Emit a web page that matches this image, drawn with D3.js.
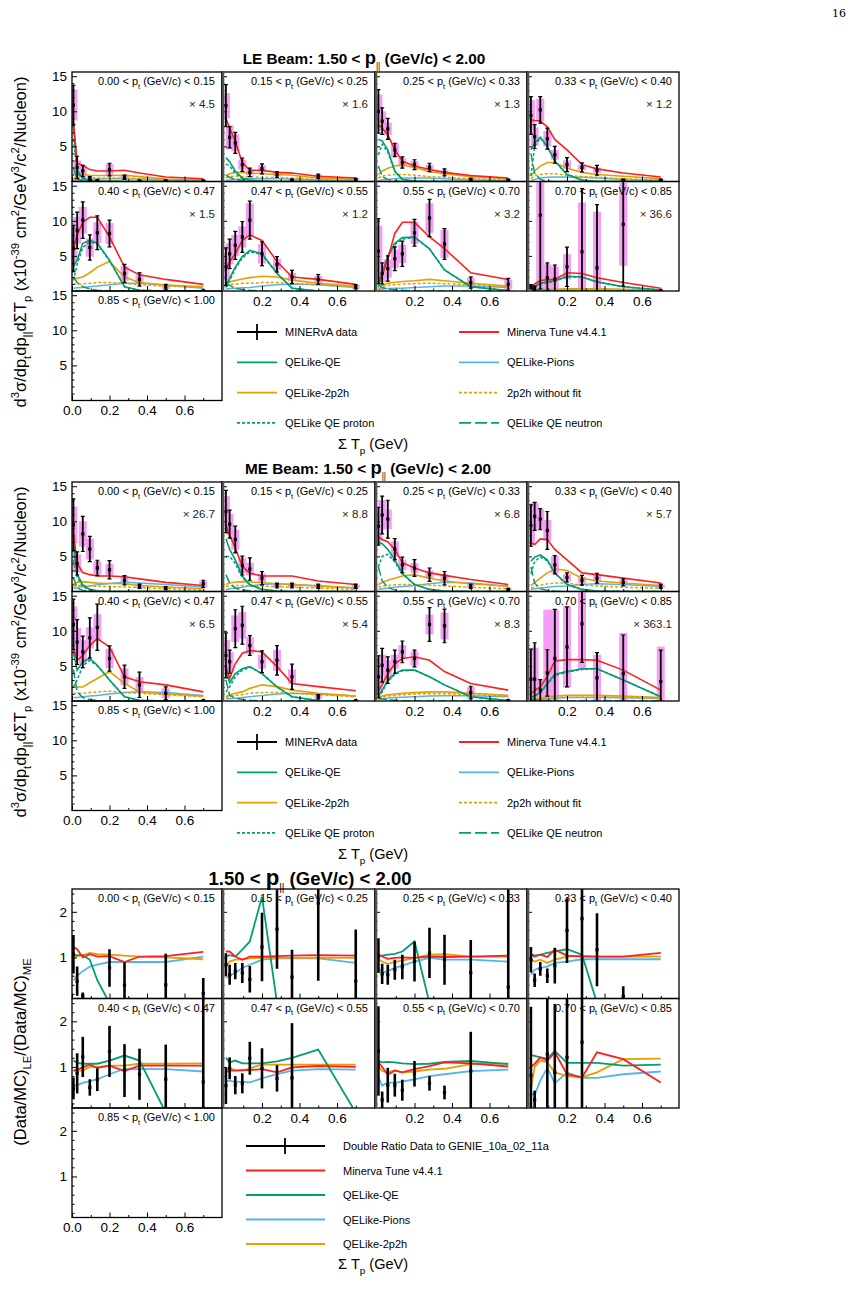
<!DOCTYPE html>
<html>
<head>
<meta charset="utf-8">
<script src="https://cdn.jsdelivr.net/npm/d3@7"></script>
<style>
  body { margin: 0; background: #fff; }
  svg { display: block; font-family: "Liberation Sans", Arial, Helvetica, sans-serif; }
</style>
</head>
<body>
<div id="chart"></div>
<script>
// bin centres of Sum T_p (GeV) and the pt bin edges
const bins = [0.0075, 0.0275, 0.0575, 0.095, 0.135, 0.2, 0.28, 0.36, 0.5, 0.7];
const ptEdges = ["0.00", "0.15", "0.25", "0.33", "0.40", "0.47", "0.55", "0.70", "0.85", "1.00"];
const leScales = ["4.5", "1.6", "1.3", "1.2", "1.5", "1.2", "3.2", "36.6"];
const meScales = ["26.7", "8.8", "6.8", "5.7", "6.5", "5.4", "8.3", "363.1"];

// ---- LE beam ----
const leData = [
  [10.9, 2.0, 1.5, 0.4, 0.15, 1.7, 0.6, 0.1, 0.1, 0.1],
  [10.8, 6.3, 5.5, 2.4, 1.3, 1.8, 1.0, 0.2, 0.75, 0.3],
  [10.0, 8.6, 7.5, 4.5, 2.7, 2.4, 2.0, 1.3, 0.3, 0.2],
  [9.4, 6.4, 10.2, 6.1, 3.8, 2.4, 2.0, 1.6, 0.2, 0.2],
  [6.05, 8.65, 10.1, 6.2, 8.3, 8.2, 2.5, 1.65, 0.6, 0.05],
  [3.45, 5.3, 6.5, 7.7, 10.1, 5.3, 3.8, 2.0, 1.65, 0.6],
  [5.7, 2.5, 3.2, 4.6, 5.3, 8.3, 10.4, 6.7, 1.2, 0.95],
  [0.6, 0.4, 10.8, 1.9, 1.7, 3.45, 5.6, 3.3, 9.5, 0.05]
];
const leErr = [
  [2.8, 1.6, 0.8, 0.3, 0.1, 0.9, 0.3, 0.05, 0.05, 0.05],
  [3.0, 1.5, 1.5, 0.95, 0.6, 0.7, 0.4, 0.1, 0.3, 0.15],
  [3.1, 1.9, 1.5, 0.95, 0.8, 0.7, 0.6, 0.5, 0.15, 0.1],
  [2.7, 1.7, 1.9, 1.5, 1.2, 1.0, 0.65, 0.7, 0.1, 0.1],
  [3.3, 2.6, 2.6, 1.8, 2.4, 1.9, 1.3, 0.95, 0.35, 0.05],
  [2.7, 2.1, 2.0, 2.2, 2.7, 1.7, 1.1, 0.95, 0.7, 0.3],
  [4.6, 1.5, 1.8, 1.7, 1.8, 1.9, 2.65, 2.2, 0.8, 0.85],
  [0.3, 0.3, 10.5, 2.1, 2.0, 2.8, 9.0, 9.0, 8.8, 0.05]
];
const leSys = [
  [2.2, 1.0, 0.8, 0.2, 0.1, 0.8, 0.25, 0.05, 0.05, 0.05],
  [1.8, 1.7, 1.2, 0.7, 0.4, 0.5, 0.3, 0.1, 0.2, 0.1],
  [2.4, 1.4, 0.9, 0.95, 0.6, 0.5, 0.4, 0.3, 0.1, 0.1],
  [2.2, 1.3, 1.6, 1.1, 0.7, 0.6, 0.4, 0.4, 0.1, 0.1],
  [2.0, 1.9, 1.9, 1.3, 1.5, 1.5, 1.05, 0.7, 0.3, 0.05],
  [2.0, 1.5, 1.5, 1.5, 2.4, 1.4, 0.8, 0.6, 0.5, 0.3],
  [3.6, 1.2, 1.3, 1.3, 1.3, 1.6, 2.1, 2.0, 0.7, 0.7],
  [0.3, 0.3, 10.5, 1.9, 1.8, 1.8, 7.0, 8.0, 5.9, 0.05]
];
const leTune = [
  [8.6, 2.6, 2.3, 1.7, 1.5, 1.5, 1.6, 1.2, 0.65, 0.4],
  [9.0, 7.6, 5.7, 2.7, 1.6, 1.6, 1.3, 1.2, 0.75, 0.5],
  [8.1, 7.6, 6.7, 4.5, 2.9, 2.2, 1.7, 1.3, 0.85, 0.5],
  [8.8, 8.7, 8.6, 7.8, 6.0, 4.5, 2.4, 1.8, 1.2, 0.65],
  [6.0, 8.0, 9.8, 10.5, 10.5, 7.7, 3.4, 2.3, 1.65, 0.95],
  [3.0, 4.2, 5.3, 7.2, 8.0, 7.2, 4.2, 2.0, 1.65, 0.95],
  [1.5, 2.3, 4.6, 8.2, 9.8, 9.8, 7.7, 6.05, 2.6, 1.65],
  [0.5, 1.0, 1.5, 1.6, 1.65, 2.6, 2.5, 1.9, 1.2, 0.4]
];
const leQE = [
  [8.0, 1.6, 0.5, 0.1, 0.05, 0.02, 0, 0, 0, 0],
  [3.4, 2.8, 1.5, 0.5, 0.2, 0.05, 0, 0, 0, 0],
  [6.0, 5.8, 4.5, 1.5, 0.3, 0.05, 0, 0, 0, 0],
  [4.5, 5.5, 6.3, 5.0, 2.9, 1.0, 0.2, 0, 0, 0],
  [3.5, 4.4, 6.8, 7.2, 6.8, 4.4, 0.6, 0.1, 0, 0],
  [0.8, 1.8, 3.4, 4.9, 5.8, 5.3, 2.5, 0.4, 0, 0],
  [1.0, 2.5, 5.0, 6.8, 7.6, 7.7, 6.0, 3.0, 0.6, 0.05],
  [0.3, 0.7, 1.1, 1.3, 1.45, 2.1, 2.0, 1.3, 0.6, 0.15]
];
const leQEp = [
  [6.0, 1.3, 0.4, 0.1, 0.03, 0, 0, 0, 0, 0],
  [2.5, 2.2, 1.2, 0.4, 0.15, 0.03, 0, 0, 0, 0],
  [3.8, 5.3, 4.2, 1.4, 0.3, 0.05, 0, 0, 0, 0],
  [0.8, 5.0, 6.2, 5.0, 2.9, 1.0, 0.2, 0, 0, 0],
  [1.5, 3.8, 6.2, 7.0, 6.7, 4.3, 0.6, 0.1, 0, 0],
  [0.5, 1.5, 3.2, 4.7, 5.6, 5.2, 2.5, 0.4, 0, 0],
  [0.6, 2.2, 4.8, 6.6, 7.4, 7.6, 6.0, 3.0, 0.6, 0.05],
  [0.2, 0.6, 1.0, 1.2, 1.4, 2.0, 2.0, 1.3, 0.6, 0.15]
];
const leQEn = [
  [2.0, 0.4, 0.1, 0.02, 0, 0, 0, 0, 0, 0],
  [0.9, 0.6, 0.3, 0.1, 0, 0, 0, 0, 0, 0],
  [2.2, 0.7, 0.3, 0.1, 0, 0, 0, 0, 0, 0],
  [4.0, 1.2, 0.3, 0.05, 0, 0, 0, 0, 0, 0],
  [2.0, 1.2, 0.6, 0.3, 0.1, 0, 0, 0, 0, 0],
  [1.2, 0.8, 0.4, 0.2, 0.1, 0, 0, 0, 0, 0],
  [1.0, 0.5, 0.3, 0.15, 0.1, 0, 0, 0, 0, 0],
  [0.2, 0.15, 0.1, 0.05, 0, 0, 0, 0, 0, 0]
];
const le2p2h = [
  [0.3, 0.9, 1.0, 0.9, 0.85, 0.85, 0.9, 0.7, 0.35, 0.2],
  [0.8, 1.1, 1.3, 1.3, 1.2, 1.1, 1.0, 0.9, 0.5, 0.3],
  [1.0, 1.5, 1.9, 2.2, 2.4, 2.0, 1.4, 1.1, 0.7, 0.4],
  [0.75, 1.5, 2.2, 2.7, 2.7, 1.9, 1.3, 1.0, 0.75, 0.4],
  [1.8, 1.8, 2.0, 2.6, 3.4, 4.2, 2.0, 1.2, 0.85, 0.6],
  [1.1, 1.3, 1.5, 1.7, 1.9, 2.1, 2.0, 1.55, 1.1, 0.7],
  [0.4, 0.8, 1.1, 1.25, 1.35, 1.45, 1.65, 1.45, 1.1, 0.7],
  [0.1, 0.15, 0.2, 0.2, 0.25, 0.3, 0.3, 0.3, 0.25, 0.15]
];
const le2p2hNoFit = [
  [0.2, 0.6, 0.6, 0.55, 0.5, 0.5, 0.5, 0.4, 0.2, 0.1],
  [0.5, 0.7, 0.75, 0.7, 0.65, 0.6, 0.55, 0.5, 0.3, 0.15],
  [0.5, 0.8, 0.9, 1.0, 1.0, 0.9, 0.7, 0.6, 0.4, 0.2],
  [0.4, 0.8, 1.0, 1.1, 1.1, 0.9, 0.7, 0.6, 0.4, 0.2],
  [1.0, 1.0, 1.0, 1.1, 1.2, 1.2, 1.1, 0.9, 0.7, 0.5],
  [0.8, 0.9, 1.0, 1.1, 1.1, 1.2, 1.2, 1.1, 0.9, 0.6],
  [0.3, 0.6, 0.8, 0.9, 1.0, 1.05, 1.1, 1.05, 0.9, 0.6],
  [0.05, 0.1, 0.15, 0.15, 0.2, 0.2, 0.2, 0.2, 0.2, 0.1]
];
const lePions = [
  [0.1, 0.2, 0.25, 0.3, 0.35, 0.4, 0.4, 0.35, 0.2, 0.1],
  [0.1, 0.2, 0.3, 0.35, 0.4, 0.4, 0.4, 0.35, 0.2, 0.1],
  [0.1, 0.2, 0.3, 0.4, 0.5, 0.5, 0.5, 0.4, 0.25, 0.1],
  [0.1, 0.3, 0.5, 0.6, 0.65, 0.65, 0.6, 0.5, 0.3, 0.15],
  [0.4, 0.45, 0.5, 0.6, 0.7, 0.9, 1.1, 1.1, 0.85, 0.4],
  [0.3, 0.35, 0.4, 0.45, 0.5, 0.7, 0.9, 1.0, 0.9, 0.5],
  [0.2, 0.3, 0.35, 0.4, 0.4, 0.5, 0.6, 0.7, 0.7, 0.5],
  [0.05, 0.05, 0.1, 0.1, 0.1, 0.15, 0.15, 0.15, 0.1, 0.05]
];

// ---- ME beam ----
const meData = [
  [9.5, 4.0, 8.2, 6.05, 3.35, 3.1, 1.6, 0.75, 0.5, 1.1],
  [11.4, 9.6, 7.4, 3.7, 3.2, 1.9, 0.85, 0.85, 0.75, 0.75],
  [9.3, 10.9, 10.3, 6.05, 3.8, 3.35, 2.4, 1.9, 0.75, 0.3],
  [9.4, 10.7, 10.3, 8.7, 3.8, 2.0, 1.6, 1.9, 1.3, 0.75],
  [10.9, 8.4, 7.0, 9.0, 10.5, 6.05, 3.45, 2.3, 1.1, 0.05],
  [6.5, 5.6, 10.3, 10.8, 7.9, 5.6, 5.8, 3.45, 0.6, 0.05],
  [3.45, 5.1, 4.4, 5.6, 7.0, 6.05, 10.9, 10.7, 1.2, 0.05],
  [3.1, 3.1, 1.55, 4.0, 6.05, 7.7, 11.0, 3.3, 3.9, 2.75]
];
const meErr = [
  [3.7, 1.65, 2.5, 1.8, 1.1, 1.3, 0.65, 0.3, 0.2, 0.5],
  [3.0, 2.0, 1.9, 1.35, 1.6, 0.95, 0.35, 0.35, 0.3, 0.3],
  [2.7, 2.7, 2.7, 1.5, 1.1, 1.2, 0.95, 0.95, 0.3, 0.15],
  [2.95, 2.0, 1.5, 2.7, 1.3, 0.65, 0.7, 0.7, 0.5, 0.3],
  [3.6, 3.2, 2.25, 2.85, 3.3, 1.8, 1.65, 1.8, 0.9, 0.05],
  [3.2, 1.65, 2.7, 2.7, 1.4, 1.55, 2.1, 1.8, 0.3, 0.05],
  [3.0, 2.4, 1.9, 1.65, 1.55, 1.2, 2.4, 2.4, 0.9, 0.05],
  [4.3, 5.2, 1.5, 3.3, 7.0, 5.7, 5.5, 3.6, 5.5, 4.5]
];
const meSys = [
  [2.6, 1.3, 1.8, 1.5, 0.95, 0.85, 0.5, 0.25, 0.15, 0.45],
  [2.2, 1.5, 1.4, 1.1, 0.9, 0.65, 0.3, 0.3, 0.25, 0.25],
  [2.2, 2.1, 1.4, 1.1, 0.75, 0.7, 0.6, 0.6, 0.25, 0.1],
  [2.7, 1.9, 1.4, 1.5, 1.2, 0.5, 0.5, 0.5, 0.4, 0.25],
  [2.6, 2.0, 1.7, 1.5, 1.9, 1.4, 1.2, 1.1, 0.7, 0.05],
  [2.2, 1.4, 1.9, 1.9, 1.2, 1.0, 1.5, 1.05, 0.25, 0.05],
  [2.5, 1.5, 1.4, 1.0, 0.95, 1.0, 1.4, 1.9, 0.8, 0.05],
  [4.1, 4.5, 1.5, 9.0, 7.0, 5.8, 6.6, 3.3, 5.8, 5.0]
];
const meTune = [
  [8.5, 4.0, 2.7, 2.4, 2.2, 2.2, 2.1, 1.8, 1.3, 0.85],
  [9.5, 8.0, 6.2, 3.6, 2.6, 2.2, 2.2, 2.2, 1.5, 1.0],
  [7.8, 7.4, 7.1, 6.0, 4.1, 3.35, 2.65, 2.3, 1.7, 1.0],
  [6.9, 6.7, 7.5, 7.4, 6.0, 4.5, 2.65, 2.4, 1.9, 1.2],
  [7.5, 5.8, 6.5, 7.9, 8.9, 7.7, 3.45, 2.75, 2.3, 1.3],
  [4.9, 3.2, 5.3, 6.8, 7.2, 7.0, 4.9, 2.5, 2.05, 1.45],
  [1.5, 2.3, 3.9, 5.3, 6.05, 6.3, 5.8, 4.2, 2.5, 1.55],
  [1.0, 1.5, 2.0, 3.5, 5.7, 5.9, 5.9, 5.8, 4.4, 1.55]
];
const meQE = [
  [6.5, 2.5, 0.9, 0.3, 0.1, 0, 0, 0, 0, 0],
  [7.5, 6.0, 4.5, 2.2, 1.0, 0.3, 0.05, 0, 0, 0],
  [7.0, 6.8, 6.0, 4.5, 2.6, 1.0, 0.3, 0.05, 0, 0],
  [4.3, 4.9, 5.2, 4.5, 2.65, 1.0, 0.3, 0.05, 0, 0],
  [7.0, 4.4, 5.6, 6.05, 5.1, 3.0, 0.6, 0.1, 0, 0],
  [4.4, 2.6, 3.9, 4.6, 4.9, 3.9, 2.0, 0.6, 0.05, 0],
  [0.8, 1.5, 3.0, 3.9, 4.4, 4.4, 3.45, 2.3, 0.6, 0.05],
  [0.5, 0.8, 1.2, 2.5, 3.8, 4.2, 4.6, 4.6, 3.0, 0.6]
];
const meQEp = [
  [4.5, 2.0, 0.7, 0.2, 0.05, 0, 0, 0, 0, 0],
  [5.0, 5.0, 4.0, 2.0, 0.9, 0.3, 0.05, 0, 0, 0],
  [3.5, 5.0, 5.3, 4.2, 2.5, 1.0, 0.3, 0.05, 0, 0],
  [2.5, 4.3, 4.9, 4.4, 2.6, 1.0, 0.3, 0.05, 0, 0],
  [2.0, 3.0, 5.0, 5.8, 5.0, 3.0, 0.6, 0.1, 0, 0],
  [1.3, 2.0, 3.5, 4.4, 4.8, 3.9, 2.0, 0.6, 0.05, 0],
  [0.5, 1.3, 2.8, 3.8, 4.3, 4.4, 3.45, 2.3, 0.6, 0.05],
  [0.4, 0.7, 1.1, 2.4, 3.6, 4.1, 4.5, 4.6, 3.0, 0.6]
];
const meQEn = [
  [2.0, 0.5, 0.15, 0.05, 0, 0, 0, 0, 0, 0],
  [2.4, 1.2, 0.5, 0.2, 0.1, 0, 0, 0, 0, 0],
  [3.5, 1.5, 0.6, 0.2, 0.05, 0, 0, 0, 0, 0],
  [3.5, 1.2, 0.4, 0.15, 0.05, 0, 0, 0, 0, 0],
  [4.5, 1.3, 0.5, 0.2, 0.05, 0, 0, 0, 0, 0],
  [3.0, 0.8, 0.4, 0.2, 0.1, 0, 0, 0, 0, 0],
  [0.6, 0.3, 0.15, 0.1, 0.05, 0, 0, 0, 0, 0],
  [0.2, 0.1, 0.1, 0.05, 0, 0, 0, 0, 0, 0]
];
const me2p2h = [
  [1.0, 1.3, 1.4, 1.3, 1.2, 1.15, 1.1, 0.85, 0.65, 0.4],
  [1.0, 1.2, 1.35, 1.4, 1.35, 1.25, 1.1, 1.0, 0.8, 0.5],
  [1.0, 1.3, 1.6, 1.9, 2.2, 2.4, 1.9, 1.5, 1.1, 0.75],
  [0.85, 1.3, 1.9, 2.65, 3.2, 3.0, 1.9, 1.5, 1.2, 0.85],
  [2.0, 2.0, 2.0, 2.6, 3.2, 4.2, 2.5, 1.3, 1.0, 0.7],
  [0.6, 0.9, 1.1, 1.3, 1.8, 2.3, 2.05, 1.55, 1.1, 0.7],
  [0.4, 0.7, 0.9, 1.0, 1.1, 1.2, 1.3, 1.3, 1.1, 0.8],
  [0.2, 0.3, 0.4, 0.6, 0.7, 0.8, 0.8, 0.8, 0.7, 0.5]
];
const me2p2hNoFit = [
  [0.6, 0.8, 0.9, 0.8, 0.75, 0.7, 0.65, 0.55, 0.4, 0.25],
  [0.7, 0.8, 0.85, 0.85, 0.8, 0.75, 0.7, 0.6, 0.5, 0.3],
  [0.6, 0.75, 0.85, 0.95, 1.0, 1.0, 0.9, 0.8, 0.6, 0.4],
  [0.5, 0.7, 0.9, 1.1, 1.2, 1.2, 0.9, 0.8, 0.6, 0.45],
  [1.1, 1.1, 1.1, 1.2, 1.3, 1.4, 1.2, 1.1, 0.9, 0.6],
  [0.5, 0.7, 0.8, 0.9, 1.1, 1.2, 1.2, 1.1, 0.9, 0.6],
  [0.3, 0.5, 0.7, 0.8, 0.9, 1.0, 1.05, 1.05, 0.9, 0.7],
  [0.15, 0.2, 0.3, 0.4, 0.5, 0.55, 0.55, 0.55, 0.5, 0.4]
];
const mePions = [
  [0.4, 0.55, 0.7, 0.8, 0.95, 1.15, 1.3, 1.2, 1.0, 0.65],
  [0.3, 0.4, 0.5, 0.6, 0.8, 1.0, 1.1, 1.0, 0.8, 0.5],
  [0.3, 0.4, 0.5, 0.6, 0.7, 0.85, 1.1, 1.3, 1.2, 0.75],
  [0.3, 0.4, 0.5, 0.6, 0.7, 0.8, 1.0, 1.1, 1.0, 0.7],
  [0.5, 0.5, 0.6, 0.7, 0.8, 1.0, 1.2, 1.3, 1.2, 0.8],
  [0.3, 0.35, 0.4, 0.5, 0.6, 0.8, 1.0, 1.1, 1.0, 0.7],
  [0.2, 0.3, 0.4, 0.5, 0.55, 0.6, 0.7, 0.75, 0.75, 0.6],
  [0.1, 0.15, 0.2, 0.3, 0.4, 0.5, 0.5, 0.5, 0.45, 0.35]
];

// ---- double ratio (Data/MC)_LE / (Data/MC)_ME ----
const ratioData = [
  [1.07, 0.48, 0.16, null, null, 0.77, 0.39, null, 0.40, 0.21],
  [0.84, 0.62, 0.70, 0.66, 0.52, 1.23, 1.62, 0.57, 2.19, 0.48],
  [1.04, 0.64, 0.62, 0.73, 0.79, 0.91, 1.10, 0.95, 0.67, 0.35],
  [0.95, 0.50, 0.75, 0.60, 0.82, 1.59, 1.85, 1.17, 0.15, null],
  [0.53, 0.86, 1.22, 0.55, 0.72, 1.34, 0.92, 0.84, 0.73, 0.67],
  [0.59, 0.97, 0.60, 0.64, 1.19, 0.97, 0.75, 0.76, null, null],
  [1.35, 0.28, 0.60, 0.60, 0.49, 0.85, 0.64, 0.44, 0.91, null],
  [0.82, 0.28, null, 1.28, 0.88, 1.21, 1.54, null, null, null]
];
const ratioErr = [
  [0.42, 0.32, 0.07, 0, 0, 0.41, 0.5, 0, 0.68, 0.34],
  [0.25, 0.22, 0.18, 0.22, 0.29, 0.75, 0.87, 0.6, 1.7, 1.13],
  [0.38, 0.22, 0.22, 0.22, 0.27, 0.44, 0.55, 0.55, 0.71, 2.14],
  [0.28, 0.15, 0.15, 0.16, 0.39, 0.71, 1.75, 0.8, 0.22, 0],
  [0.24, 0.44, 0.44, 0.18, 0.25, 0.56, 0.58, 0.56, 0.76, 1.82],
  [0.4, 0.24, 0.2, 0.22, 0.36, 0.44, 0.29, 1.2, 0, 0],
  [0.98, 0.18, 0.38, 0.25, 0.23, 0.28, 0.16, 0.15, 0.86, 0],
  [1.5, 0.2, 0, 1.5, 1.5, 1.5, 1.5, 0, 0, 0]
];
const ratioTune = [
  [1.23, 1.18, 1.0, 1.07, 1.02, 1.03, 0.9, 1.02, 1.03, 1.12],
  [1.13, 1.13, 1.02, 0.95, 1.02, 1.02, 1.03, 1.04, 1.05, 1.04],
  [1.06, 1.02, 0.97, 0.99, 1.0, 0.99, 1.02, 1.01, 1.02, 1.04],
  [1.06, 1.02, 1.06, 1.01, 1.17, 1.04, 1.02, 1.02, 1.02, 1.1],
  [0.92, 0.94, 0.99, 1.05, 0.98, 1.03, 0.91, 1.03, 1.03, 1.03],
  [0.89, 0.92, 0.92, 0.93, 0.93, 0.95, 0.88, 0.99, 1.02, 1.0],
  [1.1, 1.0, 0.83, 0.92, 0.88, 0.95, 1.02, 1.1, 1.08, 1.01],
  [1.0, 1.07, 1.21, 1.14, 1.32, 0.84, 0.77, 1.32, 1.17, 0.66]
];
const ratioQE = [
  [1.05, 1.05, 1.05, 0.95, 0.5, 0.0, 0, 0, 0, 0],
  [1.02, 1.05, 1.02, 1.17, 1.35, 2.33, 0.0, 0, 0, 0],
  [1.04, 1.04, 1.06, 1.08, 1.13, 1.35, 0.0, 0, 0, 0],
  [1.08, 1.04, 1.06, 1.1, 1.13, 1.18, 1.06, 0.0, 0, 0],
  [1.14, 1.09, 1.07, 1.07, 1.07, 1.14, 1.25, 1.14, 0.0, 0],
  [1.2, 1.1, 1.14, 1.08, 1.08, 1.08, 1.12, 1.2, 1.38, 0.0],
  [1.13, 1.1, 1.11, 1.1, 1.08, 1.06, 1.07, 1.11, 1.13, 1.06],
  [1.26, 1.24, 1.21, 1.18, 1.35, 1.09, 1.09, 1.09, 1.03, 1.05]
];
const ratioPions = [
  [0.5, 0.6, 0.7, 0.8, 0.84, 0.9, 0.9, 0.9, 0.9, 1.02],
  [0.55, 0.6, 0.66, 0.77, 0.84, 0.95, 0.98, 0.98, 0.98, 0.88],
  [0.77, 0.66, 0.7, 0.77, 0.82, 0.91, 0.99, 0.95, 0.95, 0.91],
  [0.62, 0.73, 0.77, 0.8, 0.88, 0.91, 0.96, 0.96, 0.96, 0.96],
  [0.59, 0.6, 0.65, 0.69, 0.73, 0.84, 0.96, 0.95, 0.95, 0.9],
  [0.68, 0.7, 0.67, 0.68, 0.66, 0.75, 0.84, 0.92, 0.95, 0.94],
  [0.77, 0.59, 0.66, 0.65, 0.68, 0.73, 0.8, 0.84, 0.91, 0.94],
  [0.42, 0.39, 0.7, 0.98, 0.64, 0.88, 0.76, 0.76, 0.84, 0.9]
];
const ratio2p2h = [
  [1.0, 1.03, 1.05, 1.1, 1.07, 1.06, 1.04, 1.02, 1.0, 0.96],
  [0.8, 0.91, 0.95, 0.96, 0.98, 0.99, 0.99, 0.99, 0.99, 0.99],
  [0.96, 0.91, 0.86, 0.9, 0.93, 0.99, 1.06, 1.07, 1.02, 1.02],
  [0.95, 0.91, 0.95, 0.88, 0.95, 1.02, 1.04, 1.02, 1.02, 1.02],
  [0.92, 0.92, 0.92, 1.0, 1.0, 1.03, 1.03, 1.07, 1.07, 1.08],
  [0.95, 0.97, 0.93, 0.92, 0.97, 1.05, 1.05, 1.05, 1.05, 1.05],
  [1.02, 0.91, 0.88, 0.93, 0.88, 0.9, 0.94, 0.96, 1.06, 1.08],
  [0.5, 1.0, 1.14, 1.1, 0.88, 0.8, 0.77, 0.88, 1.17, 1.18]
];

// 色
const colTune = '#ff1f1f', colQE = '#009e73', colPions = '#56b4e9', col2p2h = '#e69f00', colBand = '#f59ef5';

// レイアウト
const W = 859, H = 1304;
const colLeft = [72, 222, 375, 527];
const colRight = [222, 375, 527, 679];
const plotX0 = [72, 224.5, 377, 529.5];
const blockTop = [72, 482, 889];
const rowH = 109.5;

const svg = d3.select('#chart').append('svg').attr('width', W).attr('height', H);
svg.append('rect').attr('width', W).attr('height', H).attr('fill', '#fff');

// sub/superscript text helper
function rich(sel, parts, fs) {
  let off = 0;
  parts.forEach(p => {
    const [t, m] = Array.isArray(p) ? p : [p, ''];
    const target = m === 'sub' ? fs * 0.32 : m === 'sup' ? -fs * 0.4 : 0;
    sel.append('tspan')
      .attr('dy', target - off)
      .attr('font-size', m ? fs * 0.68 : fs)
      .text(t);
    off = target;
  });
}

function drawPanel(block, i) {
  const row = Math.floor(i / 4), col = i % 4;
  const top = blockTop[block] + row * rowH, bottom = top + rowH;
  const left = colLeft[col], right = colRight[col];
  const x = d3.scaleLinear().domain([0, 0.8]).range([plotX0[col], plotX0[col] + 150]);
  const y = block < 2
    ? d3.scaleLinear().domain([0, 15.6]).range([bottom, top])
    : d3.scaleLinear().domain([0.1, 2.5]).range([bottom, top]);

  const cid = 'clip' + block + '_' + i;
  svg.append('clipPath').attr('id', cid)
    .append('rect').attr('x', left).attr('y', top).attr('width', right - left).attr('height', rowH);
  const g = svg.append('g');
  const pg = g.append('g').attr('clip-path', 'url(#' + cid + ')');

  const line = d3.line().x((d, k) => x(bins[k])).y(d => y(d));
  const drawLine = (vals, color, dash, w) => {
    pg.append('path').datum(vals).attr('d', line)
      .attr('fill', 'none').attr('stroke', color).attr('stroke-width', w)
      .attr('stroke-dasharray', dash || null);
  };

  if (i < 8) {
    if (block < 2) {
      const S = block === 0
        ? {d: leData, e: leErr, s: leSys, t: leTune, qe: leQE, p: lePions, m: le2p2h, mn: le2p2hNoFit, qp: leQEp, qn: leQEn}
        : {d: meData, e: meErr, s: meSys, t: meTune, qe: meQE, p: mePions, m: me2p2h, mn: me2p2hNoFit, qp: meQEp, qn: meQEn};
      // systematic bands
      pg.selectAll('rect.band').data(S.d[i]).enter().append('rect')
        .attr('x', (d, k) => x(bins[k]) - 4).attr('width', 8)
        .attr('y', (d, k) => y(d + S.s[i][k]))
        .attr('height', (d, k) => y(d - S.s[i][k]) - y(d + S.s[i][k]))
        .attr('fill', colBand);
      drawLine(S.p[i], colPions, null, 1.5);
      drawLine(S.mn[i], col2p2h, '3,2', 1.5);
      drawLine(S.m[i], col2p2h, null, 1.6);
      drawLine(S.qn[i], colQE, '9,3', 1.5);
      drawLine(S.qp[i], colQE, '3,2', 1.5);
      drawLine(S.qe[i], colQE, null, 1.6);
      drawLine(S.t[i], colTune, null, 1.6);
      // data points
      S.d[i].forEach((v, k) => {
        const cx = x(bins[k]), e = S.e[i][k];
        pg.append('line').attr('x1', cx).attr('x2', cx).attr('y1', y(v - e)).attr('y2', y(v + e))
          .attr('stroke', '#000').attr('stroke-width', 1.8);
        [v - e, v + e].forEach(c => pg.append('line').attr('x1', cx - 2).attr('x2', cx + 2)
          .attr('y1', y(c)).attr('y2', y(c)).attr('stroke', '#000').attr('stroke-width', 1.2));
        pg.append('rect').attr('x', cx - 1.6).attr('y', y(v) - 1.6).attr('width', 3.2).attr('height', 3.2).attr('fill', '#000');
      });
      // scale factor
      const sc = block === 0 ? leScales[i] : meScales[i];
      g.append('text').attr('x', right - 7).attr('y', top + 36).attr('text-anchor', 'end')
        .attr('font-size', 11.5).attr('fill', '#222').text('\u00d7 ' + sc);
    } else {
      drawLine(ratioPions[i], colPions, null, 1.8);
      drawLine(ratio2p2h[i], col2p2h, null, 1.8);
      drawLine(ratioQE[i], colQE, null, 1.8);
      drawLine(ratioTune[i], colTune, null, 1.8);
      ratioData[i].forEach((v, k) => {
        if (v === null) return;
        const cx = x(bins[k]), e = ratioErr[i][k];
        pg.append('line').attr('x1', cx).attr('x2', cx).attr('y1', y(v - e)).attr('y2', y(v + e))
          .attr('stroke', '#000').attr('stroke-width', 2.6);
        pg.append('rect').attr('x', cx - 1.6).attr('y', y(v) - 1.6).attr('width', 3.2).attr('height', 3.2).attr('fill', '#000');
      });
    }
  }

  // pt label
  const lab = g.append('text').attr('x', right - 7).attr('y', top + 13).attr('text-anchor', 'end').attr('font-size', 11);
  rich(lab, [ptEdges[i] + ' < p', ['t', 'sub'], ' (GeV/c) < ' + ptEdges[i + 1]], 11);

  // axes
  const yMajor = block < 2 ? [5, 10, 15] : [1, 2];
  const yMinor = block < 2 ? d3.range(1, 16).filter(v => v % 5) : d3.range(1, 13).map(k => k * 0.2).filter(v => Math.abs(v - 1) > 0.01 && Math.abs(v - 2) > 0.01);
  g.append('g').attr('transform', 'translate(' + left + ',0)')
    .call(d3.axisLeft(y).tickValues(yMajor).tickSizeInner(-5).tickSizeOuter(0).tickPadding(5)
      .tickFormat(col === 0 ? d3.format('d') : ''));
  g.append('g').attr('transform', 'translate(' + left + ',0)')
    .call(d3.axisLeft(y).tickValues(yMinor).tickSizeInner(-2.5).tickSizeOuter(0).tickFormat(''));
  const showX = (row === 1 && col > 0) || row === 2;
  g.append('g').attr('transform', 'translate(0,' + bottom + ')')
    .call(d3.axisBottom(x).tickValues(col === 0 ? [0, 0.2, 0.4, 0.6] : [0.2, 0.4, 0.6])
      .tickSizeInner(-5).tickSizeOuter(0).tickPadding(5).tickFormat(showX ? d3.format('.1f') : ''));
  g.append('g').attr('transform', 'translate(0,' + bottom + ')')
    .call(d3.axisBottom(x).tickValues([0.1, 0.3, 0.5, 0.7]).tickSizeInner(-2.5).tickSizeOuter(0).tickFormat(''));
  g.selectAll('.domain').remove();
  g.selectAll('.tick line').attr('stroke', '#000');
  g.selectAll('.tick text').attr('font-size', 13.5).attr('font-family', '"Liberation Sans", Arial, sans-serif').attr('fill', '#000');

  // frame
  g.append('rect').attr('x', left).attr('y', top).attr('width', right - left).attr('height', rowH)
    .attr('fill', 'none').attr('stroke', '#000').attr('stroke-width', 1.3);
  if (col > 0) {
    g.append('line').attr('x1', left + 1.2).attr('x2', left + 1.2).attr('y1', top).attr('y2', bottom)
      .attr('stroke', '#555').attr('stroke-width', 2.2);
  }
}

for (let b = 0; b < 3; b++) for (let i = 0; i < 9; i++) drawPanel(b, i);

// titles
function beamTitle(txt, cx, by, fs) {
  const t = svg.append('text').attr('x', cx).attr('y', by).attr('text-anchor', 'middle')
    .attr('font-weight', 'bold').attr('font-size', fs).attr('fill', '#000');
  t.append('tspan').text(txt + '1.50 < ');
  t.append('tspan').attr('font-size', fs * 1.2).text('p');
  t.append('tspan').attr('font-size', fs * 0.55).attr('font-weight', 'normal').attr('dy', fs * 0.3).text('||');
  t.append('tspan').attr('dy', -fs * 0.3).text(' (GeV/c) < 2.00');
}
beamTitle('LE Beam: ', 364, 64, 15.3);
beamTitle('ME Beam: ', 368, 474, 15.3);
beamTitle('', 310, 885, 18.5);

// x axis titles
[449, 859, 1269].forEach(by => {
  const t = svg.append('text').attr('x', 373).attr('y', by).attr('text-anchor', 'middle').attr('font-size', 14.5);
  rich(t, ['\u03a3 T', ['p', 'sub'], ' (GeV)'], 14.5);
});

// y axis titles
[242, 652].forEach(cy => {
  const t = svg.append('text').attr('transform', 'translate(26,' + cy + ') rotate(-90)')
    .attr('text-anchor', 'middle').attr('font-size', 16.5);
  rich(t, ['d', ['3', 'sup'], '\u03c3/dp', ['t', 'sub'], 'dp', ['||', 'sub'], 'd\u03a3T', ['p', 'sub'],
    ' (x10', ['-39', 'sup'], ' cm', ['2', 'sup'], '/GeV', ['3', 'sup'], '/c', ['2', 'sup'], '/Nucleon)'], 16.5);
});
{
  const t = svg.append('text').attr('transform', 'translate(26,1052) rotate(-90)')
    .attr('text-anchor', 'middle').attr('font-size', 16.5);
  rich(t, ['(Data/MC)', ['LE', 'sub'], '/(Data/MC)', ['ME', 'sub']], 16.5);
}

// legends
const legendLabels = ['MINERvA data', 'Minerva Tune v4.4.1', 'QELike-QE', 'QELike-Pions',
  'QELike-2p2h', '2p2h without fit', 'QELike QE proton', 'QELike QE neutron'];
const legendStyles = [['#000', null], [colTune, null], [colQE, null], [colPions, null],
  [col2p2h, null], [col2p2h, '3,2'], [colQE, '3,2'], [colQE, '12,4']];
[332, 742].forEach(y0 => {
  legendLabels.forEach((lbl, k) => {
    const cx = k % 2 === 0 ? 237 : 459, yy = y0 + Math.floor(k / 2) * 30.3;
    svg.append('line').attr('x1', cx).attr('x2', cx + 40).attr('y1', yy).attr('y2', yy)
      .attr('stroke', legendStyles[k][0]).attr('stroke-width', 1.8)
      .attr('stroke-dasharray', legendStyles[k][1]);
    if (k === 0) svg.append('line').attr('x1', cx + 20).attr('x2', cx + 20).attr('y1', yy - 8).attr('y2', yy + 8)
      .attr('stroke', '#000').attr('stroke-width', 1.8);
    svg.append('text').attr('x', cx + 48).attr('y', yy + 4).attr('font-size', 11).text(lbl);
  });
});
const ratioLegendLabels = ['Double Ratio Data to GENIE_10a_02_11a', 'Minerva Tune v4.4.1', 'QELike-QE', 'QELike-Pions', 'QELike-2p2h'];
const ratioLegendColors = ['#000', colTune, colQE, colPions, col2p2h];
ratioLegendLabels.forEach((lbl, k) => {
  const yy = 1146 + k * 24.5;
  svg.append('line').attr('x1', 246).attr('x2', 325).attr('y1', yy).attr('y2', yy)
    .attr('stroke', ratioLegendColors[k]).attr('stroke-width', 2);
  if (k === 0) svg.append('line').attr('x1', 285).attr('x2', 285).attr('y1', yy - 8).attr('y2', yy + 8)
    .attr('stroke', '#000').attr('stroke-width', 1.8);
  svg.append('text').attr('x', 343).attr('y', yy + 4).attr('font-size', 11).text(lbl);
});

// page number
svg.append('text').attr('x', 846).attr('y', 17).attr('text-anchor', 'end')
  .attr('font-family', '"DejaVu Serif", "Liberation Serif", serif').attr('font-size', 11).text('16');
</script>
</body>
</html>
